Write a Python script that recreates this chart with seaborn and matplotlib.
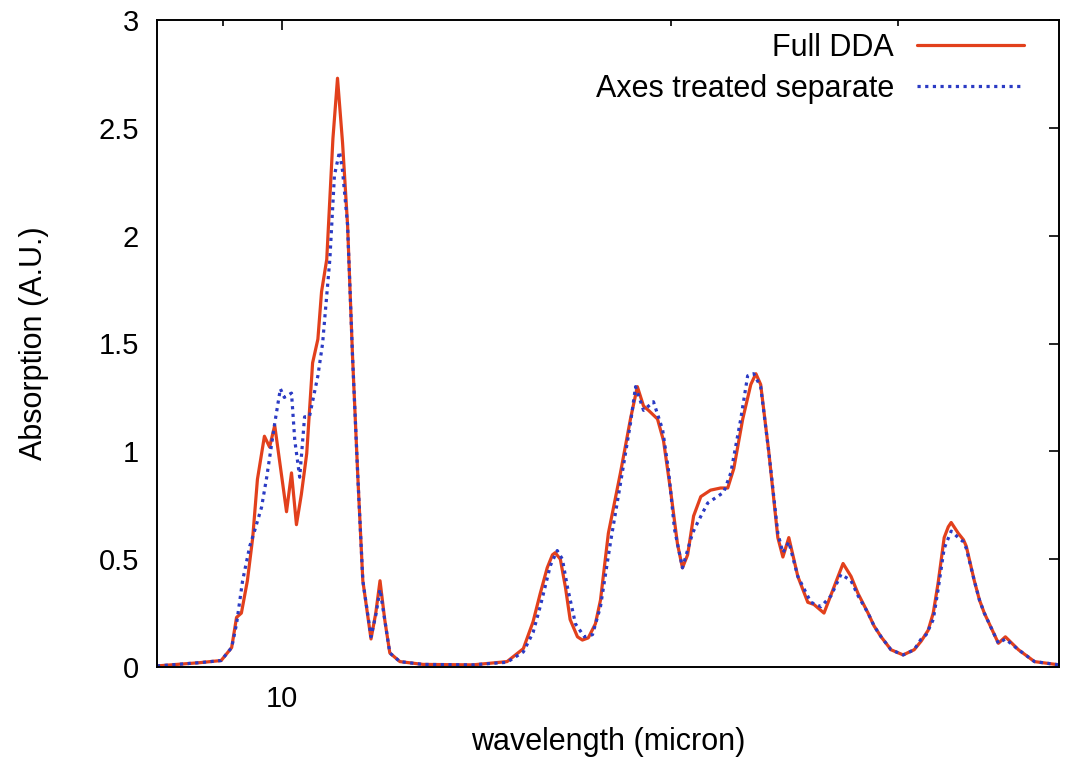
import matplotlib
matplotlib.use("Agg")
import matplotlib.pyplot as plt
import pandas as pd
import seaborn as sns
from matplotlib.ticker import FixedLocator, FixedFormatter, NullFormatter

# ---- data ----
full_wl = [8.00, 8.63, 8.97, 9.14, 9.22, 9.30, 9.40, 9.49, 9.57, 9.69,
           9.78, 9.87, 10.08, 10.17, 10.26, 10.35, 10.45, 10.56, 10.66, 10.73,
           10.83, 10.95, 11.04, 11.14, 11.24, 11.34, 11.45, 11.55, 11.72, 11.82,
           11.91, 12.01, 12.12, 12.34, 12.86, 14.06, 14.94,
           15.38, 15.65, 15.85, 16.05, 16.20, 16.28, 16.43, 16.58, 16.72, 16.94,
           17.09, 17.27, 17.49, 17.65, 17.90, 18.29, 18.62, 18.85, 19.06, 19.23,
           19.54, 19.75, 20.00, 20.25, 20.43, 20.62, 20.84, 21.11, 21.48, 21.87,
           22.15, 22.39, 22.75, 23.08, 23.29, 23.49, 23.83, 24.22, 24.44, 24.70,
           25.10, 25.55, 25.83, 26.30, 26.77, 27.21, 27.60, 27.95, 28.45, 28.76,
           29.12, 29.64, 30.29, 30.89, 31.28, 31.67, 31.96, 32.24, 32.59, 32.83,
           33.00, 33.42, 33.73, 33.90, 34.39, 34.71, 35.01, 35.90, 36.35, 37.21,
           38.29, 40.0]
full_abs = [0.005, 0.02, 0.03, 0.09, 0.23, 0.25, 0.40, 0.60, 0.87, 1.07,
            1.02, 1.12, 0.72, 0.90, 0.66, 0.80, 0.99, 1.41, 1.52, 1.74,
            1.89, 2.45, 2.73, 2.43, 2.05, 1.44, 0.87, 0.40, 0.13, 0.25,
            0.40, 0.22, 0.065, 0.025, 0.012, 0.01, 0.025,
            0.085, 0.21, 0.34, 0.46, 0.52, 0.53, 0.50, 0.37, 0.22, 0.14,
            0.125, 0.135, 0.20, 0.31, 0.62, 0.90, 1.15, 1.30, 1.21, 1.19,
            1.15, 1.05, 0.82, 0.57, 0.46, 0.52, 0.70, 0.79, 0.82, 0.83,
            0.83, 0.92, 1.15, 1.31, 1.36, 1.31, 1.00, 0.60, 0.51, 0.60,
            0.42, 0.30, 0.29, 0.25, 0.37, 0.48, 0.42, 0.34, 0.25, 0.19,
            0.14, 0.08, 0.056, 0.08, 0.12, 0.17, 0.25, 0.39, 0.60, 0.65,
            0.67, 0.62, 0.59, 0.56, 0.40, 0.31, 0.25, 0.11, 0.14, 0.08,
            0.025, 0.01]

sep_wl = [8.00, 8.63, 8.97, 9.14, 9.22, 9.32, 9.44, 9.52, 9.64, 9.73,
          9.87, 9.97, 10.04, 10.17, 10.23, 10.32, 10.41, 10.50, 10.66, 10.75,
          10.89, 10.98, 11.08, 11.14, 11.24, 11.34, 11.45, 11.55, 11.72, 11.82,
          11.91, 12.01, 12.12, 12.34, 12.86, 14.06, 14.94,
          15.38, 15.65, 15.85, 16.14, 16.34, 16.49, 16.64, 16.88, 17.15, 17.40,
          17.65, 17.97, 18.29, 18.62, 18.79, 19.06, 19.40, 19.72, 19.93, 20.14,
          20.43, 20.80, 20.99, 21.37, 21.99, 22.27, 22.67, 22.95, 23.20, 23.49,
          23.83, 24.22, 24.44, 24.70, 25.10, 25.69, 26.16, 26.63, 27.11, 27.60,
          27.95, 28.45, 28.76, 29.12, 29.64, 30.29, 30.89, 31.28, 31.56, 31.96,
          32.24, 32.59, 33.00, 33.42, 33.73, 33.90, 34.39, 34.71, 35.01, 35.90,
          36.35, 37.21, 38.29, 40.0]
sep_abs = [0.005, 0.02, 0.03, 0.09, 0.20, 0.40, 0.56, 0.63, 0.74, 0.88,
           1.13, 1.29, 1.25, 1.27, 1.05, 0.88, 1.16, 1.16, 1.35, 1.50,
           1.89, 2.28, 2.39, 2.30, 2.05, 1.44, 0.87, 0.40, 0.14, 0.24,
           0.36, 0.22, 0.065, 0.025, 0.012, 0.01, 0.022,
           0.07, 0.16, 0.28, 0.47, 0.54, 0.50, 0.37, 0.20, 0.14, 0.15,
           0.28, 0.58, 0.85, 1.13, 1.30, 1.19, 1.23, 1.10, 0.91, 0.64,
           0.46, 0.62, 0.67, 0.76, 0.81, 0.90, 1.15, 1.35, 1.36, 1.30,
           1.00, 0.62, 0.53, 0.58, 0.42, 0.30, 0.28, 0.33, 0.43, 0.40,
           0.33, 0.25, 0.19, 0.14, 0.08, 0.056, 0.08, 0.13, 0.15, 0.22,
           0.36, 0.55, 0.63, 0.60, 0.58, 0.55, 0.40, 0.31, 0.25, 0.11,
           0.13, 0.08, 0.025, 0.01]

series_labels = ["Full DDA", "Axes treated separate"]
y_ticks = [0, 0.5, 1, 1.5, 2, 2.5, 3]
y_ticklabels = ["0", "0.5", "1", "1.5", "2", "2.5", "3"]
x_major = [10]
x_major_labels = ["10"]
x_minor = [9, 20, 30]

# ---- style ----
sns.set_style("white")
plt.rcParams['font.family'] = ['Liberation Sans', 'DejaVu Sans']
plt.rcParams['text.color'] = 'black'
plt.rcParams['axes.labelcolor'] = 'black'
plt.rcParams['xtick.color'] = 'black'
plt.rcParams['ytick.color'] = 'black'

fig = plt.figure(figsize=(10.66, 7.61), dpi=100)
ax = fig.add_axes([157 / 1066, 1 - 667 / 761, 902 / 1066, 647 / 761])

df_full = pd.DataFrame({"wavelength": full_wl, "absorption": full_abs})
df_sep = pd.DataFrame({"wavelength": sep_wl, "absorption": sep_abs})

sns.lineplot(data=df_full, x="wavelength", y="absorption", ax=ax,
             color="#e2401c", linewidth=2.3, estimator=None, sort=False,
             label=series_labels[0])
sns.lineplot(data=df_sep, x="wavelength", y="absorption", ax=ax,
             color="#2b3bc4", linewidth=2.3, estimator=None, sort=False,
             linestyle=(0, (1, 1.4)), label=series_labels[1])

ax.set_xscale("log")
ax.set_xlim(8, 40)
ax.set_ylim(0, 3)
ax.xaxis.set_major_locator(FixedLocator(x_major))
ax.xaxis.set_major_formatter(FixedFormatter(x_major_labels))
ax.xaxis.set_minor_locator(FixedLocator(x_minor))
ax.xaxis.set_minor_formatter(NullFormatter())
ax.set_yticks(y_ticks)
ax.set_yticklabels(y_ticklabels)

for s in ax.spines.values():
    s.set_color("black")
    s.set_linewidth(1.4)

ax.tick_params(which="both", direction="in", top=True, right=True,
               color="black", labelcolor="black", width=1.2, labelsize=21)
ax.tick_params(which="major", length=7.5, pad=13)
ax.tick_params(which="minor", length=4)

ax.set_xlabel("wavelength (micron)", fontsize=22)
ax.set_ylabel("Absorption (A.U.)", fontsize=22)
ax.xaxis.set_label_coords(0.5, -0.092)
ax.yaxis.set_label_coords((49 - 157) / 902, 0.5)

leg = ax.legend(loc="upper right", bbox_to_anchor=((1024 - 157) / 902, (667 - 33) / 647),
                borderaxespad=0, frameon=False, markerfirst=False,
                fontsize=22, handlelength=3.5, handletextpad=0.75,
                labelspacing=0.36, borderpad=0)
for t in leg.get_texts():
    t.set_color("black")

fig.savefig("out.png", dpi=100)
